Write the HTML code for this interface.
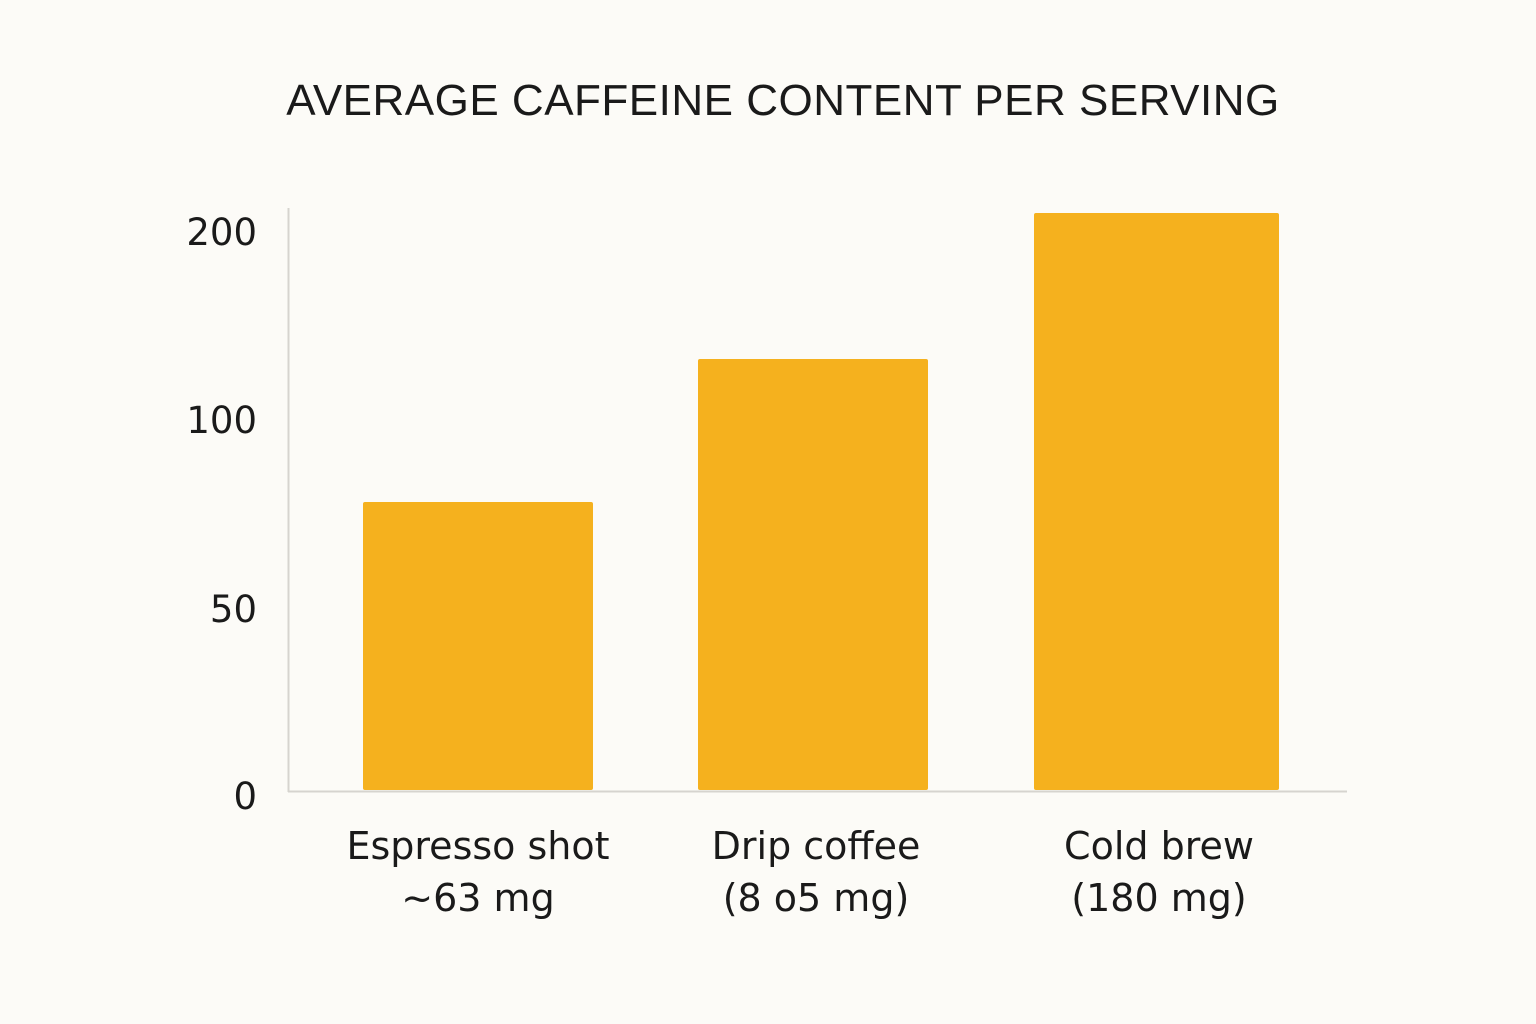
<!DOCTYPE html>
<html><head><meta charset="utf-8"><style>
html,body{margin:0;padding:0;background:#fcfbf7;}
svg{display:block}
text{font-family:"Liberation Sans","DejaVu Sans",sans-serif;fill:#1a1a1a}
.d{font-family:"DejaVu Sans","Liberation Sans",sans-serif}
</style></head><body>
<svg width="1536" height="1024" viewBox="0 0 1536 1024">
<rect width="1536" height="1024" fill="#fcfbf7"/>
<text x="783" y="115" text-anchor="middle" font-size="44" letter-spacing="0.5">AVERAGE CAFFEINE CONTENT PER SERVING</text>
<line x1="288.5" y1="208" x2="288.5" y2="792" stroke="#d6d4cf" stroke-width="2"/>
<line x1="288" y1="791.5" x2="1347" y2="791.5" stroke="#d6d4cf" stroke-width="2"/>
<g font-size="37" text-anchor="end">
<text class="d" x="257" y="245">200</text>
<text class="d" x="257" y="433">100</text>
<text class="d" x="257" y="622">50</text>
<text class="d" x="257" y="809">0</text>
</g>
<rect x="363" y="502" width="230" height="288" rx="2" fill="#f5b11e"/>
<rect x="698" y="359" width="230" height="431" rx="2" fill="#f5b11e"/>
<rect x="1034" y="213" width="245" height="577" rx="2" fill="#f5b11e"/>
<g font-size="38" text-anchor="middle">
<text class="d" x="478" y="859">Espresso shot</text>
<text class="d" x="478" y="911">~63 mg</text>
<text class="d" x="816" y="859">Drip coffee</text>
<text class="d" x="816" y="911">(8 o5 mg)</text>
<text class="d" x="1159" y="859">Cold brew</text>
<text class="d" x="1159" y="911">(180 mg)</text>
</g>
</svg>
</body></html>
